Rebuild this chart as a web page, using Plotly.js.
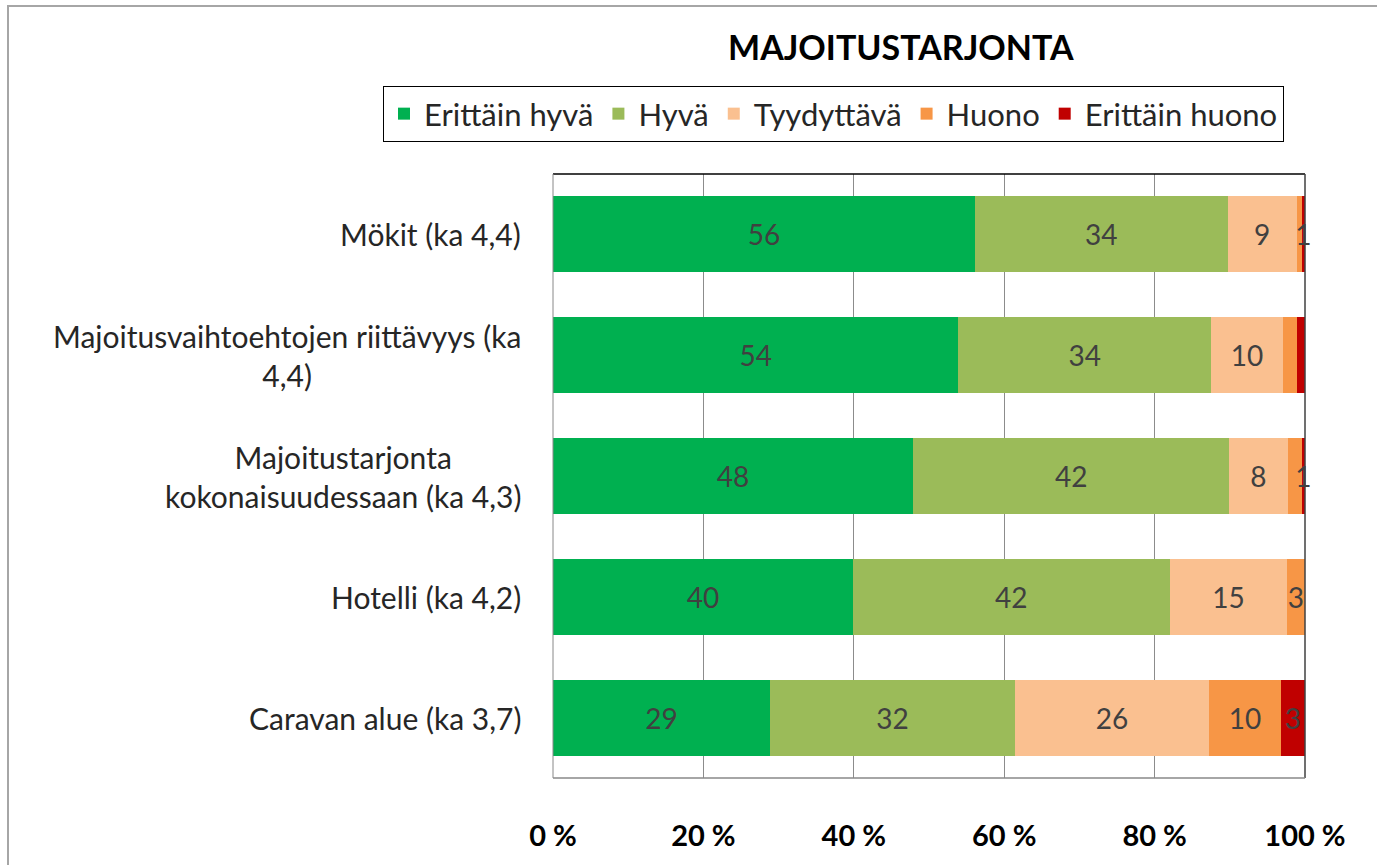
<!DOCTYPE html>
<html>
<head>
<meta charset="utf-8">
<script src="https://cdn.plot.ly/plotly-3.0.1.min.js"></script>
<style>html,body{margin:0;padding:0;background:#fff;}#chart{width:1377px;height:865px;}</style>
</head>
<body>
<div id="chart"></div>
<script>
const categories = [
  'Mökit (ka 4,4)',
  'Majoitusvaihtoehtojen riittävyys (ka<br>4,4)',
  'Majoitustarjonta<br>kokonaisuudessaan (ka 4,3)',
  'Hotelli (ka 4,2)',
  'Caravan alue (ka 3,7)'
];
const seriesNames = ['Erittäin hyvä', 'Hyvä', 'Tyydyttävä', 'Huono', 'Erittäin huono'];
const erittainHyva = [56.1, 53.9, 47.9, 39.9, 28.9];
const hyva = [33.6, 33.6, 42.0, 42.2, 32.6];
const tyydyttava = [9.2, 9.6, 7.8, 15.6, 25.8];
const huono = [0.7, 1.8, 1.9, 2.4, 9.6];
const erittainHuono = [0.4, 1.1, 0.4, 0, 3.2];
const lblErittainHyva = ['56', '54', '48', '40', '29'];
const lblHyva = ['34', '34', '42', '42', '32'];
const lblTyydyttava = ['9', '10', '8', '15', '26'];
const lblHuono = ['', '', '', '3', '10'];
const lblErittainHuono = ['1', '1', '1', '', '3'];
const tickVals = [0, 20, 40, 60, 80, 100];
const tickText = ['0 %', '20 %', '40 %', '60 %', '80 %', '100 %'];

const colors = ['#00B050', '#9BBB59', '#FAC090', '#F79646', '#C00000'];
const values = [erittainHyva, hyva, tyydyttava, huono, erittainHuono];
const labels = [lblErittainHyva, lblHyva, lblTyydyttava, lblHuono, lblErittainHuono];
const FONT = 'Lato, "Open Sans", sans-serif';

const ids = categories.map((c, i) => 'c' + i);
const traces = values.map((v, k) => ({
  type: 'bar',
  orientation: 'h',
  name: seriesNames[k],
  y: ids,
  x: v,
  marker: {color: colors[k], line: {width: 0}},
  text: labels[k],
  textposition: 'inside',
  insidetextanchor: 'middle',
  cliponaxis: false,
  textfont: {family: FONT, size: 28, color: '#404040'},
  hoverinfo: 'skip'
}));

const L = 553, R = 1305, T = 174, B = 778;
const W = 1377, H = 865;
const px = x => (x - L) / (R - L);
const py = y => 1 - (y - T) / (B - T);

const annotations = categories.map((c, i) => ({
  xref: 'paper', yref: 'y',
  x: px(523), y: ids[i],
  xanchor: 'right', yanchor: 'middle', align: 'center',
  text: c, showarrow: false,
  font: {family: FONT, size: 30, color: '#262626'}
}));
annotations.push({
  xref: 'paper', yref: 'paper', x: px(901), y: py(46),
  xanchor: 'center', yanchor: 'middle', showarrow: false,
  text: '<b>MAJOITUSTARJONTA</b>',
  font: {family: FONT, size: 34, color: '#000'}
});

const shapes = [
  {type: 'rect', xref: 'paper', yref: 'paper', x0: px(8), x1: px(1390), y0: py(6), y1: py(880), line: {color: '#a6a6a6', width: 2}},
  {type: 'line', xref: 'paper', yref: 'paper', x0: 0, x1: 1, y0: 1, y1: 1, line: {color: '#000', width: 1.5}},
  {type: 'line', xref: 'paper', yref: 'paper', x0: 1, x1: 1, y0: 0, y1: 1, line: {color: '#404040', width: 1.5}},
  {type: 'line', xref: 'paper', yref: 'paper', x0: 0, x1: 0, y0: 0, y1: 1, line: {color: '#888', width: 1}},
  {type: 'line', xref: 'paper', yref: 'paper', x0: 0, x1: 1, y0: 0, y1: 0, line: {color: '#888', width: 1.5}}
];

const layout = {
  width: W, height: H,
  margin: {l: L, r: W - R, t: T, b: H - B, pad: 0, autoexpand: false},
  paper_bgcolor: '#fff', plot_bgcolor: '#fff',
  barmode: 'stack',
  barnorm: 'percent',
  bargap: 0.37,
  uniformtext: {mode: 'show', minsize: 28},
  showlegend: true,
  legend: {
    orientation: 'h',
    x: px(383), xanchor: 'left', y: py(86), yanchor: 'top',
    bordercolor: '#000', borderwidth: 1, bgcolor: '#fff',
    font: {family: FONT, size: 31, color: '#262626'},
    traceorder: 'normal', itemwidth: 30, tracegroupgap: 0
  },
  xaxis: {
    range: [0, 100], tickvals: tickVals, ticktext: tickText,
    showgrid: true, gridcolor: '#8c8c8c', gridwidth: 1, zeroline: false,
    showline: false, ticks: '', ticklabelstandoff: 38,
    tickfont: {family: FONT, size: 29, color: '#000', weight: 'bold'},
    fixedrange: true
  },
  yaxis: {
    autorange: 'reversed', showticklabels: false, showgrid: false,
    zeroline: false, showline: false, ticks: '', fixedrange: true
  },
  annotations: annotations,
  shapes: shapes
};

Plotly.newPlot('chart', traces, layout, {displayModeBar: false, staticPlot: true});
</script>
</body>
</html>
